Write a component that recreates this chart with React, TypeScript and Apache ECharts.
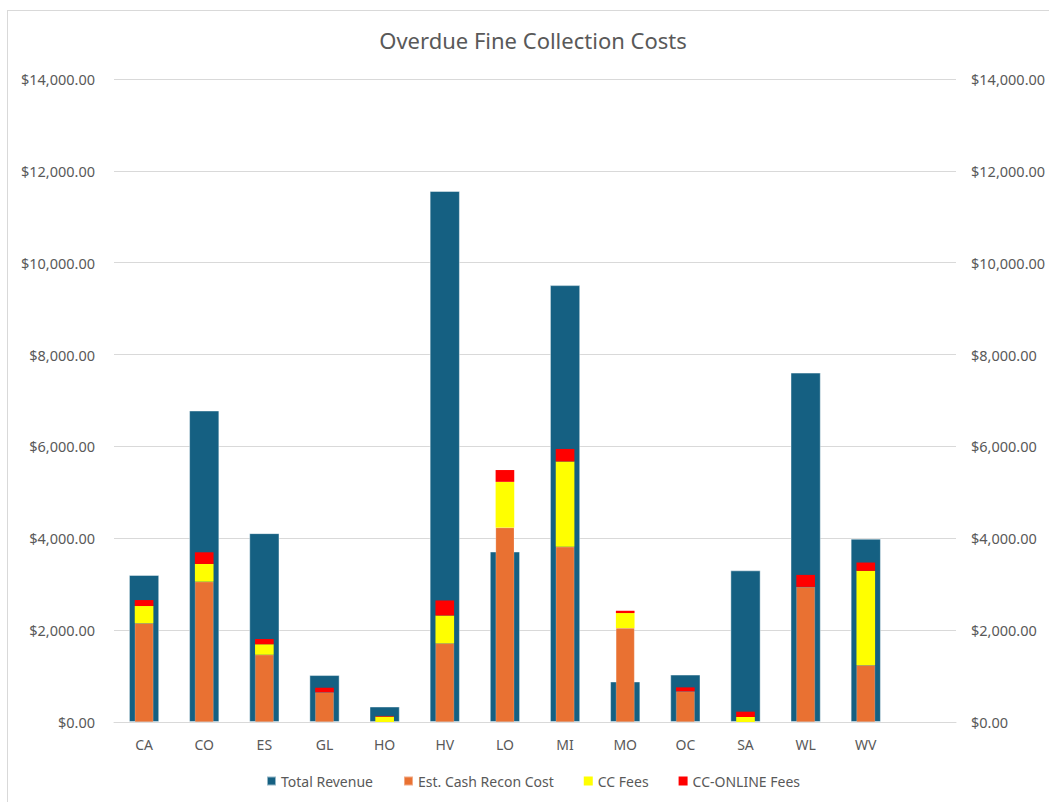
import React, { useEffect, useRef } from "react";
import * as echarts from "echarts";

// Branch codes (the trailing blank slot leaves an empty band at the right)
const categories = ["CA", "CO", "ES", "GL", "HO", "HV", "LO", "MI", "MO", "OC", "SA", "WL", "WV", ""];

const totalRevenue = [3200, 6780, 4110, 1020, 335, 11560, 3710, 9510, 880, 1030, 3300, 7605, 3990, null];
const cashReconCost = [2150, 3055, 1465, 646, 0, 1712, 4233, 3813, 2045, 667, 0, 2942, 1235, null];
const ccFees = [375, 386, 226, 0, 117, 607, 996, 1860, 327, 0, 109, 0, 2056, null];
const ccOnlineFees = [130, 254, 116, 100, 15, 327, 257, 272, 50, 87, 116, 261, 181, null];

const FONT = "'Noto Sans', 'Open Sans', sans-serif";
const TEXT = "#595959";
const GRID = "#d9d9d9";

const money = (v: number) =>
  "$" + v.toLocaleString("en-US", { minimumFractionDigits: 2, maximumFractionDigits: 2 });

export default function App() {
  const ref = useRef<HTMLDivElement>(null);

  useEffect(() => {
    if (!ref.current) return;
    const chart = echarts.init(ref.current, undefined, { renderer: "svg" });

    const yAxisBase = {
      type: "value" as const,
      min: 0,
      max: 14000,
      interval: 2000,
      axisLine: { show: false },
      axisTick: { show: false },
      axisLabel: { color: TEXT, fontSize: 14.5, fontFamily: FONT, formatter: money },
    };

    chart.setOption({
      animation: false,
      backgroundColor: "#ffffff",
      textStyle: { fontFamily: FONT },
      title: {
        text: "Overdue Fine Collection Costs",
        left: "center",
        top: 13,
        textStyle: { color: TEXT, fontSize: 22, fontWeight: "normal", fontFamily: FONT },
      },
      legend: {
        bottom: 18,
        left: "center",
        itemWidth: 9,
        itemHeight: 9,
        itemGap: 30,
        icon: "rect",
        textStyle: { color: TEXT, fontSize: 14, fontFamily: FONT },
        data: ["Total Revenue", "Est. Cash Recon Cost", "CC Fees", "CC-ONLINE Fees"],
      },
      grid: { left: 106, top: 68, width: 842, height: 643 },
      xAxis: [
        {
          type: "category",
          data: categories,
          axisLine: { lineStyle: { color: GRID, width: 1 } },
          axisTick: { show: false },
          axisLabel: { color: TEXT, fontSize: 14, fontFamily: FONT, margin: 15, interval: 0 },
        },
        {
          type: "category",
          data: categories,
          show: false,
        },
      ],
      yAxis: [
        {
          ...yAxisBase,
          position: "left",
          axisLabel: { ...yAxisBase.axisLabel, margin: 19 },
          splitLine: { lineStyle: { color: GRID, width: 1 } },
        },
        {
          ...yAxisBase,
          position: "right",
          axisLabel: { ...yAxisBase.axisLabel, margin: 15 },
          splitLine: { show: false },
        },
      ],
      series: [
        {
          name: "Total Revenue",
          type: "bar",
          xAxisIndex: 0,
          yAxisIndex: 0,
          barWidth: "50%",
          data: totalRevenue,
          itemStyle: { color: "#156082", borderColor: "rgba(255,255,255,0.55)", borderWidth: 0.8 },
        },
        {
          name: "Est. Cash Recon Cost",
          type: "bar",
          stack: "costs",
          xAxisIndex: 1,
          yAxisIndex: 1,
          barWidth: "31%",
          data: cashReconCost,
          itemStyle: { color: "#E97132", borderColor: "rgba(255,255,255,0.4)", borderWidth: 0.5 },
        },
        {
          name: "CC Fees",
          type: "bar",
          stack: "costs",
          xAxisIndex: 1,
          yAxisIndex: 1,
          barWidth: "31%",
          data: ccFees,
          itemStyle: { color: "#FFFF00" },
        },
        {
          name: "CC-ONLINE Fees",
          type: "bar",
          stack: "costs",
          xAxisIndex: 1,
          yAxisIndex: 1,
          barWidth: "31%",
          data: ccOnlineFees,
          itemStyle: { color: "#FF0000" },
        },
      ],
    });

    return () => chart.dispose();
  }, []);

  return (
    <div
      style={{
        position: "absolute",
        left: 7,
        top: 10,
        width: 1050,
        height: 800,
        borderLeft: "1px solid #d9d9d9",
        borderTop: "1px solid #d9d9d9",
        background: "#fff",
      }}
    >
      <div ref={ref} style={{ width: 1050, height: 800 }} />
    </div>
  );
}
